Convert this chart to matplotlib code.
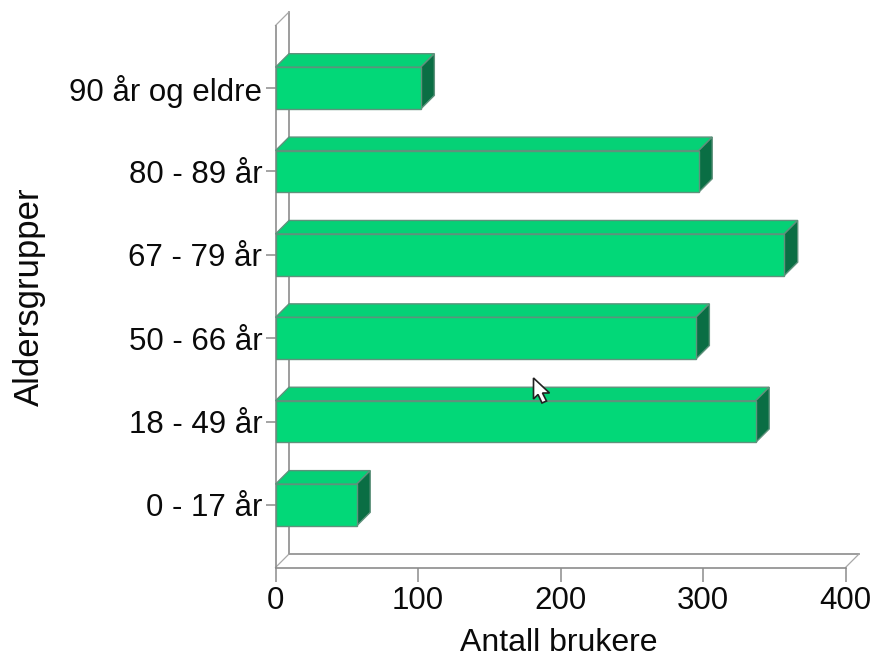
import matplotlib
matplotlib.use("Agg")
import matplotlib.pyplot as plt
from matplotlib.patches import Polygon
from matplotlib.transforms import Affine2D

plt.rcParams["font.family"] = ["Liberation Sans", "DejaVu Sans"]

# Data
age_groups = ["0 - 17 år", "18 - 49 år", "50 - 66 år", "67 - 79 år", "80 - 89 år", "90 år og eldre"]
users = [57, 337, 295, 357, 297, 102]
x_ticks = [0, 100, 200, 300, 400]

# Style
W, H = 873, 657
DPI = 100
LEFT, RIGHT, TOP, BOTTOM = 275.5, 845.5, 25.5, 567.5
DEPTH = 13.5
BAR_HEIGHT = 0.5
FRONT, TOP_FACE, SIDE, EDGE = "#02D878", "#05D176", "#0A6E44", "#5F927C"
AXIS = "#8C8C8C"
TEXT = "#0A0A0A"

fig = plt.figure(figsize=(W / DPI, H / DPI), dpi=DPI, facecolor="white")
ax = fig.add_axes([LEFT / W, 1 - BOTTOM / H, (RIGHT - LEFT) / W, (BOTTOM - TOP) / H])
ax.set_xlim(0, 400)
ax.set_ylim(-0.75, 5.75)
ax.patch.set_visible(False)

# Shift from the front plane to the back plane of the 3D box, in display pixels
back = ax.transData + Affine2D().translate(DEPTH, DEPTH)

for side in ("top", "right"):
    ax.spines[side].set_visible(False)
for side in ("left", "bottom"):
    ax.spines[side].set_color(AXIS)
    ax.spines[side].set_linewidth(1.2)

x0, x1 = ax.get_xlim()
y0, y1 = ax.get_ylim()

# Back walls and floor outline
ax.plot([x0, x1], [y0, y0], transform=back, color=AXIS, lw=1.2, clip_on=False, zorder=1)
ax.plot([x0, x0], [y0, y1], transform=back, color=AXIS, lw=1.2, clip_on=False, zorder=1)

# Connectors from front to back plane, drawn in display space
to_px = ax.transData.transform
for corner in [(x0, y0), (x1, y0), (x0, y1)]:
    px, py = to_px(corner)
    ax.plot([px, px + DEPTH], [py, py + DEPTH], transform=None, color="#A8A8A8", lw=0.9,
            clip_on=False, zorder=1)

# 3D bars: top and side faces joined to the front face
for i, value in enumerate(users):
    lo, hi = i - BAR_HEIGHT / 2, i + BAR_HEIGHT / 2
    (ax_l, ax_b), (ax_r, ax_t) = to_px((0, lo)), to_px((value, hi))
    ax.add_patch(Polygon([(ax_l, ax_t), (ax_r, ax_t), (ax_r + DEPTH, ax_t + DEPTH), (ax_l + DEPTH, ax_t + DEPTH)],
                         closed=True, transform=None, fc=TOP_FACE, ec=EDGE, lw=1.0, clip_on=False, zorder=3))
    ax.add_patch(Polygon([(ax_r, ax_b), (ax_r + DEPTH, ax_b + DEPTH), (ax_r + DEPTH, ax_t + DEPTH), (ax_r, ax_t)],
                         closed=True, transform=None, fc=SIDE, ec=EDGE, lw=1.0, clip_on=False, zorder=3))
ax.barh(range(len(users)), users, height=BAR_HEIGHT, color=FRONT, edgecolor=EDGE, linewidth=1.0,
        clip_on=False, zorder=4)

ax.set_xticks(x_ticks)
ax.set_yticks(range(len(age_groups)))
ax.set_yticklabels(age_groups)
ax.tick_params(axis="both", colors=AXIS, labelcolor=TEXT, labelsize=22.5, length=7, width=1.1)
ax.tick_params(axis="x", length=10, pad=3)
ax.tick_params(axis="y", pad=2.5)
ax.set_xlabel("Antall brukere", fontsize=23, color=TEXT)
ax.set_ylabel("Aldersgrupper", fontsize=25, color=TEXT)
ax.xaxis.set_label_coords(0.497, -0.111)
ax.yaxis.set_label_coords(-0.403, 0.499)

# Mouse pointer over the chart
tip_x, tip_y = 533.5, H - 378
arrow = [(0, 0), (0, -21), (4.5, -16.5), (8.5, -25), (13, -23), (9, -15), (16, -15)]
ax.add_patch(Polygon([(tip_x + dx, tip_y + dy) for dx, dy in arrow], closed=True, transform=None,
                     fc="white", ec="#222222", lw=1.2, clip_on=False, zorder=6))

fig.savefig("out.png", dpi=DPI, facecolor="white")
